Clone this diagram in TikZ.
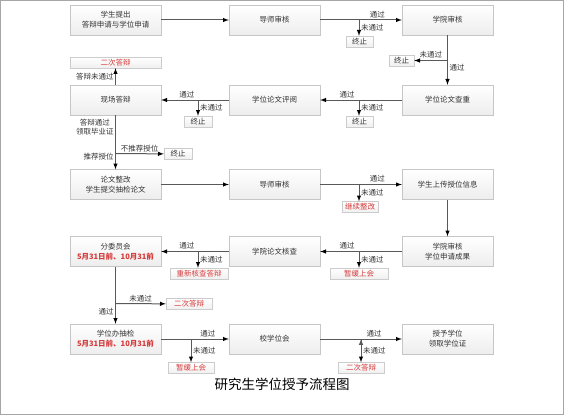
\documentclass[tikz,border=0pt]{standalone}
\usepackage{fontspec}
\setmainfont{Noto Sans CJK SC}
\usetikzlibrary{positioning, arrows}
\definecolor{alert}{HTML}{D63B3B}

\begin{document}
\begin{tikzpicture}[x=1pt, y=-1pt, >=latex, node distance=80pt, on grid]
        \tikzset{
          box/.style={draw=gray!45, top color=white, bottom color=gray!14, minimum width=91pt, minimum height=30pt, inner sep=1pt, align=center, font=\fontsize{7.5}{10}\selectfont, text=black!80},
          stopbox/.style={draw=gray!40, top color=white, bottom color=gray!12, minimum height=11pt, inner sep=1pt, font=\fontsize{7.5}{9}\selectfont, text=black!80},
          redbox/.style={stopbox, text=alert},
          line/.style={draw=black!65, line width=1pt, ->},
          branch/.style={draw=black!65, line width=1pt, ->},
          lbl/.style={font=\fontsize{7.5}{9}\selectfont, text=black!80, inner sep=1.5pt, align=center}
        }
        \useasboundingbox (0,0) rectangle (569,417);
        % outer frame
        \draw[gray!70, line width=1pt] (0.5,0.5) rectangle (563,414.5);

        % main steps
        \node[box] (apply) at (115.5,20) {学生提出\\答辩申请与学位申请};
        \node[box] (tutor) [right=159pt of apply] {导师审核};
        \node[box] (school) [right=173pt of tutor] {学院审核};
        \node[box] (check) [below=of school] {学位论文查重};
        \node[box] (review) [below=of tutor] {学位论文评阅};
        \node[box] (defense) [below=of apply] {现场答辩};
        \node[box] (revise) [below=84.5pt of defense] {论文整改\\学生提交抽检论文};
        \node[box] (tutor2) [right=159pt of revise] {导师审核};
        \node[box] (upload) [right=173pt of tutor2] {学生上传授位信息};
        \node[box] (school2) [below=67pt of upload] {学院审核\\学位申请成果};
        \node[box] (verify) [below=67pt of tutor2] {学院论文核查};
        \node[box] (committee) [below=67pt of revise] {分委员会\\{\color{alert}\bfseries 5月31日前、10月31前}};
        \node[box] (sample) [below=87.5pt of committee] {学位办抽检\\{\color{alert}\bfseries 5月31日前、10月31前}};
        \node[box] (council) [right=159pt of sample] {校学位会};
        \node[box] (grant) [right=173pt of council] {授予学位\\领取学位证};

        % end points of the branches
        \node[stopbox, minimum width=27pt] (stop1) at (359.5,41.5) {终止};
        \node[stopbox, minimum width=25pt] (stop2) at (401.5,60.5) {终止};
        \node[stopbox, minimum width=27pt] (stop3) at (359.5,121.5) {终止};
        \node[stopbox, minimum width=28pt] (stop4) at (198,121.5) {终止};
        \node[redbox, minimum width=91pt] (again1) at (115.5,62.5) {二次答辩};
        \node[stopbox, minimum width=28pt] (stop5) at (178,154) {终止};
        \node[redbox, minimum width=36pt] (goon) at (360,207) {继续整改};
        \node[redbox, minimum width=58pt] (delay1) at (359,273.5) {暂缓上会};
        \node[redbox, minimum width=58pt] (recheck) at (199,273.5) {重新核查答辩};
        \node[redbox, minimum width=46pt] (again2) at (189,304) {二次答辩};
        \node[redbox, minimum width=46pt] (delay2) at (191,368) {暂缓上会};
        \node[redbox, minimum width=46pt] (again3) at (361,368) {二次答辩};

        \coordinate (j1) at (359,20);
        \coordinate (j2) at (447.5,60.5);
        \coordinate (j3) at (359,100);
        \coordinate (j4) at (198,100);
        \coordinate (j5) at (115.5,153.5);
        \coordinate (j6) at (359,184.5);
        \coordinate (j7) at (359,251.5);
        \coordinate (j8) at (198,251.5);
        \coordinate (j9) at (115.5,303.5);
        \coordinate (j10) at (191,339);
        \coordinate (j11) at (361,339);

        \path[line]
        (apply) edge (tutor)
        (tutor) edge node[lbl, above, pos=.7] {通过} (school)
        (school) edge node[lbl, right, pos=.66] {通过} (check)
        (check) edge node[lbl, above, pos=.67] {通过} (review)
        (review) edge node[lbl, above, pos=.62] {通过} (defense)
        (defense) edge node[lbl, left, midway] {答辩未通过} (again1)
        (defense) edge node[lbl, left, pos=.22] {答辩通过\\领取毕业证}
                       node[lbl, left, pos=.77] {推荐授位} (revise)
        (revise) edge (tutor2)
        (tutor2) edge node[lbl, above, pos=.7] {通过} (upload)
        (upload) edge (school2)
        (school2) edge node[lbl, above, pos=.67] {通过} (verify)
        (verify) edge node[lbl, above, pos=.62] {通过} (committee)
        (committee) edge node[lbl, left, pos=.79] {通过} (sample)
        (sample) edge node[lbl, above, pos=.69] {通过} (council)
        (council) edge node[lbl, above, pos=.66] {通过} (grant);

        \path[branch]
        (j1) edge node[lbl, right] {未通过} (j1 |- stop1.north)
        (j2) edge node[lbl, above] {未通过} (stop2)
        (j3) edge node[lbl, right] {未通过} (j3 |- stop3.north)
        (j4) edge node[lbl, right] {未通过} (j4 |- stop4.north)
        (j5) edge node[lbl, above] {不推荐授位} (stop5)
        (j6) edge node[lbl, right] {未通过} (j6 |- goon.north)
        (j7) edge node[lbl, right] {未通过} (j7 |- delay1.north)
        (j8) edge node[lbl, right] {未通过} (j8 |- recheck.north)
        (j9) edge node[lbl, above] {未通过} (again2)
        (j10) edge node[lbl, right] {未通过} (j10 |- delay2.north)
        (j11) edge node[lbl, right] {未通过} (j11 |- again3.north);

        \node[font=\fontsize{13.5}{15}\selectfont] (title) at (282,384.5) {研究生学位授予流程图};
\end{tikzpicture}
\end{document}
